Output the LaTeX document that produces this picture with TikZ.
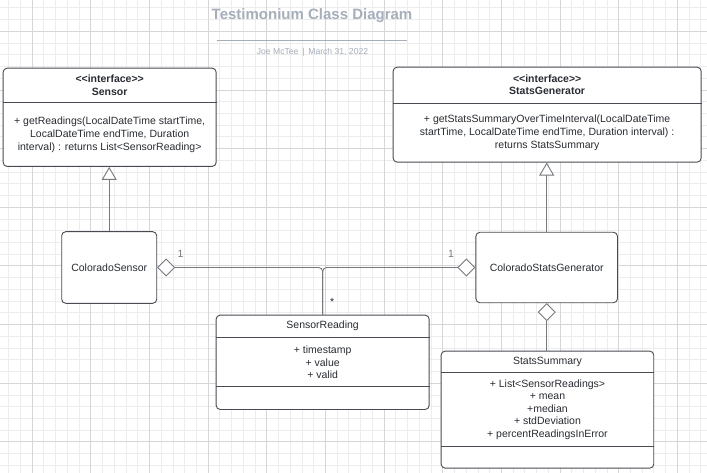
\documentclass[tikz,border=0pt]{standalone}
\usepackage{fontspec}
\setmainfont{Liberation Sans}[Ligatures=TeXOff]
\usepackage{xcolor}
\usepackage{tikz}
\usetikzlibrary{arrows.meta, positioning}
\definecolor{gridminor}{RGB}{236,236,236}
\definecolor{gridmajor}{RGB}{214,214,214}
\definecolor{boxline}{RGB}{72,76,82}
\definecolor{connline}{RGB}{118,121,126}
\definecolor{titlegray}{RGB}{166,174,186}
\definecolor{textdark}{RGB}{40,44,50}

\begin{document}
\begin{tikzpicture}[x=1pt, y=-1pt,
        font=\fontsize{10.5}{12.6}\selectfont, text=textdark,
        classbox/.style={draw=boxline, fill=white, line width=0.9pt, rounded corners=4pt, align=center},
        compartment/.style={inner sep=0pt, align=center},
        divider/.style={draw=boxline, line width=0.9pt},
        conn/.style={draw=connline, line width=0.9pt},
        inherits/.style={conn, -{Triangle[fill=white, length=13pt, width=15pt]}},
        aggregates/.style={conn, rounded corners=4pt, {Diamond[fill=white, length=18pt, width=18pt]}-},
        mult/.style={text=connline}]
            \useasboundingbox (0,0) rectangle (707,473);
            \fill[white] (0,0) rectangle (707,473);
            \foreach \i in {0,...,59}
                \draw[gridminor, line width=0.8pt] ({8.7+11.73*\i},0) -- ({8.7+11.73*\i},473);
            \foreach \j in {0,...,39}
                \draw[gridminor, line width=0.8pt] (0,{7.84+11.73*\j}) -- (707,{7.84+11.73*\j});
            \foreach \i in {0,...,11}
                \draw[gridmajor, line width=0.8pt] ({32.2+58.65*\i},0) -- ({32.2+58.65*\i},473);
            \foreach \j in {0,...,7}
                \draw[gridmajor, line width=0.8pt] (0,{31.3+58.65*\j}) -- (707,{31.3+58.65*\j});

            \node (title) [font=\bfseries\fontsize{15}{18}\selectfont, text=titlegray] at (312,16) {Testimonium Class Diagram};
            \coordinate (rule_left) at (217.3,40);
            \coordinate (rule_right) at (406.7,40);
            \draw[titlegray, line width=0.9pt] (rule_left) -- (rule_right);
            \node (byline) [font=\fontsize{8.6}{10}\selectfont, text=titlegray] at (312.5,52.3) {Joe McTee \,|\, March 31, 2022};

            \node (sensor) [classbox, minimum width=213pt, minimum height=98.3pt, anchor=north west] at (2.7,67.7) {};
            \node (sensor_name) [compartment, minimum height=34.6pt, below=0pt of sensor.north] {\textbf{<<interface>>}\\\textbf{Sensor}};
            \node (sensor_ops) [compartment, minimum height=63.7pt, below=0pt of sensor_name] {+ getReadings(LocalDateTime startTime,\\LocalDateTime endTime, Duration\\interval) : returns List<SensorReading>};
            \draw[divider] (sensor_name.south -| sensor.west) -- (sensor_name.south -| sensor.east);

            \node (stats_gen) [classbox, minimum width=308pt, minimum height=95pt, anchor=north west] at (392.7,66.7) {};
            \node (stats_gen_name) [compartment, minimum height=36pt, below=0pt of stats_gen.north] {\textbf{<<interface>>}\\\textbf{StatsGenerator}};
            \node (stats_gen_ops) [compartment, minimum height=59pt, below=0pt of stats_gen_name] {+ getStatsSummaryOverTimeInterval(LocalDateTime\\startTime, LocalDateTime endTime, Duration interval) :\\returns StatsSummary};
            \draw[divider] (stats_gen_name.south -| stats_gen.west) -- (stats_gen_name.south -| stats_gen.east);

            \node (colorado_sensor) [classbox, minimum width=95pt, minimum height=71.6pt] at (109.2,267.5) {ColoradoSensor};
            \node (colorado_stats) [classbox, minimum width=141.6pt, minimum height=70.4pt] at (546.7,267.5) {ColoradoStatsGenerator};

            \node (reading) [classbox, minimum width=213pt, minimum height=94.3pt, anchor=north west] at (215.7,314.7) {};
            \node (reading_name) [compartment, minimum height=22.6pt, below=0pt of reading.north] {SensorReading};
            \node (reading_attrs) [compartment, minimum height=48.7pt, below=0pt of reading_name] {+ timestamp\\+ value\\+ valid};
            \draw[divider] (reading_name.south -| reading.west) -- (reading_name.south -| reading.east);
            \draw[divider] (reading_attrs.south -| reading.west) -- (reading_attrs.south -| reading.east);

            \node (summary) [classbox, minimum width=212.6pt, minimum height=117pt, anchor=north west] at (440.7,350.7) {};
            \node (summary_name) [compartment, minimum height=21.3pt, below=0pt of summary.north] {StatsSummary};
            \node (summary_attrs) [compartment, minimum height=74pt, below=0pt of summary_name] {+ List<SensorReadings>\\+ mean\\+median\\+ stdDeviation\\+ percentReadingsInError};
            \draw[divider] (summary_name.south -| summary.west) -- (summary_name.south -| summary.east);
            \draw[divider] (summary_attrs.south -| summary.west) -- (summary_attrs.south -| summary.east);

            \draw[inherits] (colorado_sensor.north) -- (colorado_sensor.north |- sensor.south);
            \draw[inherits] (colorado_stats.north) -- (colorado_stats.north |- stats_gen.south);
            \draw[aggregates] (colorado_sensor.east) -- (colorado_sensor.east -| reading.north) -- (reading.north);
            \draw[aggregates] (colorado_stats.west) -- (colorado_stats.west -| reading.north) -- (reading.north);
            \draw[aggregates] (colorado_stats.south) -- (colorado_stats.south |- summary.north);

            \node (sensor_one) [mult, above right=6pt and 17pt of colorado_sensor.east] {1};
            \node (stats_one) [mult, above left=6pt and 18pt of colorado_stats.west] {1};
            \node (reading_many) [above right=6pt and 4pt of reading.north] {*};
        \end{tikzpicture}
\end{document}
